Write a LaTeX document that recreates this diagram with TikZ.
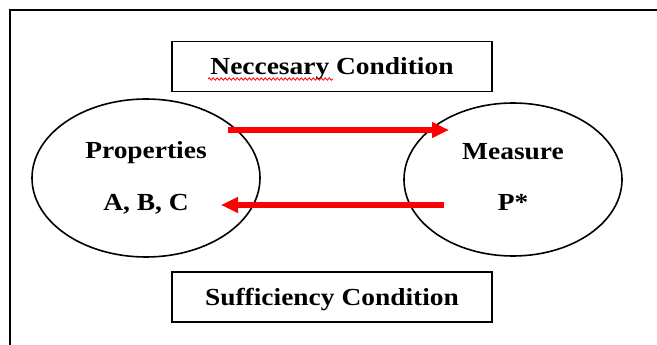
\documentclass[tikz,border=0pt]{standalone}
\usepackage{fontspec}
\setmainfont{Liberation Serif}[FakeStretch=1.12]
\usetikzlibrary{arrows.meta,shapes.geometric,decorations.pathmorphing}

\begin{document}
\begin{tikzpicture}[x=1pt,y=-1pt,
	condbox/.style={draw,line width=1.8pt,minimum width=320pt,minimum height=50pt,
		inner sep=0pt,text height=17pt,text depth=0pt,font=\fontsize{24.5}{28}\selectfont\bfseries},
	oval/.style={draw,ellipse,line width=1.6pt,inner sep=0pt},
	lbl/.style={anchor=base,inner sep=0pt,font=\fontsize{24.5}{28}\selectfont\bfseries},
	redarrow/.style={red,line width=5.7pt,-{Triangle[length=17pt,width=15pt]}}]
	\useasboundingbox (0,0) rectangle (657,345);

	% frame
	\draw[line width=2.6pt] (10,352) -- (10,10) -- (664,10);

	% conditions
	\node[condbox] (necc) at (332,66.5) {Neccesary Condition};
	\node[condbox] (suff) at (332,297) {Sufficiency Condition};
	\draw[red,line width=0.8pt,decorate,decoration={snake,amplitude=1.2pt,segment length=4pt}]
		(208,79) -- (333,79);

	% properties, measure
	\node[oval,minimum width=228pt,minimum height=158pt] (prop) at (146,178) {};
	\node[oval,minimum width=218pt,minimum height=153pt] (meas) at (513,179.5) {};

	\node[lbl] (propname) at (146,158) {Properties};
	\node[lbl] (propabc) at (146,211) {A, B, C};
	\node[lbl] (measname) at (513,160) {Measure};
	\node[lbl] (measp) at (513,211) {P*};

	% arrows
	\coordinate (fwdtail) at (228,130);
	\coordinate (fwdtip) at (449,130);
	\coordinate (backtail) at (444,205);
	\coordinate (backtip) at (221,205);
	\draw[redarrow] (fwdtail) -- (fwdtip);
	\draw[redarrow] (backtail) -- (backtip);
\end{tikzpicture}
\end{document}
